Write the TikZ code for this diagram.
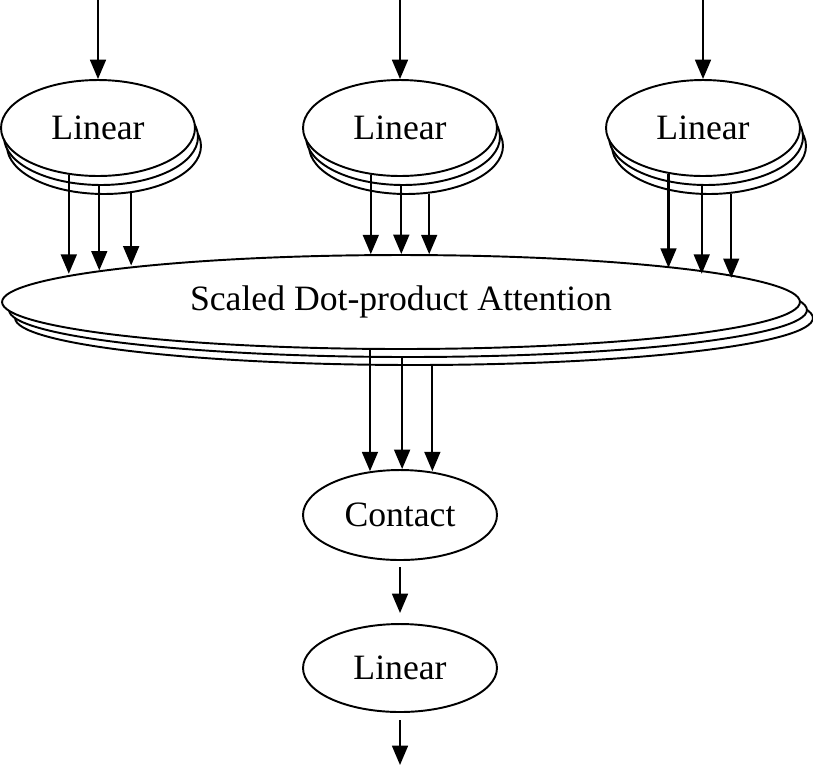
\documentclass[tikz,border=0pt]{standalone}
\usepackage{fontspec}
\setmainfont{Liberation Serif}
\usetikzlibrary{arrows.meta,shapes.geometric}
\begin{document}
\begin{tikzpicture}[x=0.02cm,y=-0.02cm,
	lin/.style={draw,line width=1.1pt,fill=white,ellipse,minimum width=3.88cm,minimum height=1.92cm,inner sep=0pt},
	att/.style={draw,line width=1.1pt,fill=white,ellipse,minimum width=15.96cm,minimum height=1.88cm,inner sep=0pt},
	arr/.style={line width=1.2pt,-{Triangle[length=11pt,width=9pt]}},
	font=\fontsize{20.3}{22}\selectfont]
	\useasboundingbox (0,0) rectangle (813,765);
	% three stacked Linear blocks
	\foreach \n/\x in {l/98,m/400,r/703}{
		\node[lin] (\n3) at (\x+6,146) {};
		\node[lin] (\n2) at (\x+3,137) {};
		\node[lin] (\n1) at (\x,128) {Linear};
		\coordinate (\n0) at (\x,0);
		\draw[arr] (\n0) -- (\n1.north);
	}
	% attention block
	\node[att] (a3) at (414,318) {};
	\node[att] (a2) at (408,310) {};
	\node[att] (a1) at (401,302) {Scaled Dot-product Attention};
	\node[lin,minimum height=1.8cm] (con) at (400,515) {Contact};
	\node[lin,minimum height=1.76cm] (out) at (400,668) {Linear};
	\coordinate (c0) at (400,567);
	\coordinate (c1) at (400,613);
	\coordinate (o0) at (400,720);
	\coordinate (end) at (400,765);
	\draw[arr] (l1.238) -- (l1.238 |- a1.175.6);
	\draw[arr] (l2.268) -- (l2.268 |- a1.174.2);
	\draw[arr] (l3.300) -- (l3.300 |- a1.172.7);
	\draw[arr] (m1.238) -- (m1.238 |- a1.122.6);
	\draw[arr] (m2.268) -- (m2.268 |- a1.north);
	\draw[arr] (m3.296) -- (m3.296 |- a1.57.4);
	\draw[arr] (r1.233) -- (r1.233 |- a1.7.45);
	\draw[arr] (r2.265) -- (r2.265 |- a1.5.95);
	\draw[arr] (r3.295) -- (r3.295 |- a1.4.57);
	\draw[arr] (a1.237.4) -- (a1.237.4 |- con.124);
	\draw[arr] (a2.263) -- (a2.263 |- con.north);
	\draw[arr] (a3.291) -- (a3.291 |- con.56);
	\draw[arr] (c0) -- (c1);
	\draw[arr] (o0) -- (end);
\end{tikzpicture}
\end{document}
